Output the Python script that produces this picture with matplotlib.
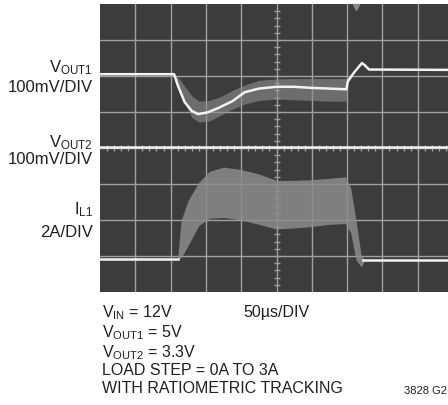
import numpy as np
import matplotlib
matplotlib.use("Agg")
import matplotlib.pyplot as plt

FONT = ['Liberation Sans', 'DejaVu Sans']
plt.rcParams['font.family'] = FONT
plt.rcParams['mathtext.fontset'] = 'custom'
plt.rcParams['mathtext.rm'] = 'Liberation Sans'
plt.rcParams['mathtext.it'] = 'Liberation Sans'
plt.rcParams['mathtext.bf'] = 'Liberation Sans'

# ---- data (time and level in scope divisions) ----
vout1_t = [0, 2.1, 2.2, 2.4, 2.6, 2.78, 3.05, 3.35, 3.75, 4.1, 4.5, 5.0, 5.5, 6.0, 6.5, 6.98,
           7.02, 7.2, 7.42, 7.5, 7.62, 9.9]
vout1_v = [6.05, 6.05, 5.75, 5.27, 5.03, 4.94, 4.99, 5.11, 5.3, 5.55, 5.65, 5.7, 5.7, 5.67, 5.65, 5.63,
           5.85, 6.1, 6.36, 6.3, 6.18, 6.17]

band1_t = [2.12, 2.3, 2.6, 2.8, 3.1, 3.4, 3.75, 4.1, 4.5, 5.0, 5.5, 6.0, 6.5, 6.98]
band1_hi = [6.05, 5.85, 5.45, 5.3, 5.32, 5.42, 5.6, 5.75, 5.88, 5.92, 5.93, 5.93, 5.93, 5.93]
band1_lo = [6.0, 5.45, 4.85, 4.72, 4.75, 4.9, 5.08, 5.22, 5.32, 5.36, 5.34, 5.32, 5.3, 5.3]

vout2_t = [0, 9.9]
vout2_v = [4.02, 4.02]

il1_base_t = [0, 2.2, 7.45, 9.9]
il1_base_v = [0.93, 0.93, 0.88, 0.88]

il1_t = [2.2, 2.3, 2.5, 2.8, 3.1, 3.5, 4.0, 4.5, 5.0, 5.5, 6.0, 6.5, 6.95, 7.1, 7.25, 7.4, 7.5]
il1_hi = [0.95, 2.0, 2.55, 3.05, 3.35, 3.47, 3.4, 3.28, 3.1, 3.1, 3.12, 3.16, 3.2, 2.9, 2.0, 1.0, 0.9]
il1_lo = [0.93, 0.95, 1.3, 1.85, 2.05, 2.07, 2.0, 1.88, 1.75, 1.78, 1.82, 1.88, 1.9, 1.65, 0.9, 0.7, 0.88]

trace_labels = [("V$_{\\mathrm{OUT1}}$", "100mV/DIV", 72, 92),
                ("V$_{\\mathrm{OUT2}}$", "100mV/DIV", 147, 164),
                ("I$_{\\mathrm{L1}}$", "2A/DIV", 214, 237)]

notes = ["V$_{\\mathrm{IN}}$ = 12V",
         "V$_{\\mathrm{OUT1}}$ = 5V",
         "V$_{\\mathrm{OUT2}}$ = 3.3V",
         "LOAD STEP = 0A TO 3A",
         "WITH RATIOMETRIC TRACKING"]
timebase = "50µs/DIV"
code = "3828 G2"

# ---- figure ----
W, H = 448, 406
fig = plt.figure(figsize=(W / 100, H / 100), dpi=100)
fig.patch.set_facecolor('white')

left_px, top_px, right_px, bot_px = 100, 5, 448, 293
div_px = 35.3
ax = fig.add_axes([left_px / W, 1 - bot_px / H, (right_px - left_px) / W, (bot_px - top_px) / H])
ax.set_facecolor('#3c3c3c')
ax.set_xlim(0, (right_px - left_px) / div_px)
ax.set_ylim(0, 8)
for s in ax.spines.values():
    s.set_visible(False)
ax.set_xticks([])
ax.set_yticks([])

gcol = '#a0a0a0'
for x in range(1, 10):
    ax.axvline(x, color=gcol, lw=1.0, zorder=1)
for y in range(1, 8):
    ax.axhline(y, color=gcol, lw=1.0, zorder=1)
# centre graticule ticks
minor = np.arange(0.2, 10, 0.2)
ax.plot(np.full_like(minor[minor < 8], 5), minor[minor < 8], ls='none', marker='_',
        ms=4, mew=1.0, color=gcol, zorder=1)
ax.plot(minor, np.full_like(minor, 4), ls='none', marker='|', ms=4, mew=1.0, color=gcol, zorder=1)

# trigger marker
ax.plot([7.25], [7.93], marker='v', ms=4, color='#8a8a8a', ls='none', zorder=2, clip_on=False)

tcol = '#f2f2f2'
# VOUT1
ax.fill_between(band1_t, band1_lo, band1_hi, color='#8e8e8e', alpha=0.6, lw=0, zorder=2)
ax.plot(vout1_t, vout1_v, color=tcol, lw=1.8, zorder=3, solid_joinstyle='round')
# VOUT2
ax.plot(vout2_t, vout2_v, color=tcol, lw=1.8, zorder=3)
# IL1
ax.fill_between(il1_t, il1_lo, il1_hi, color='#8c8c8c', alpha=0.85, lw=0, zorder=2)
ax.plot(il1_base_t[:2], il1_base_v[:2], color=tcol, lw=1.8, zorder=3)
ax.plot(il1_base_t[2:], il1_base_v[2:], color=tcol, lw=1.8, zorder=3)

# ---- labels ----
fs = 12
def fy(py):
    return 1 - py / H

for name, scale, y1, y2 in trace_labels:
    fig.text(93 / W, fy(y1), name, ha='right', va='baseline', fontsize=fs, color='#231f20')
    fig.text(93 / W, fy(y2), scale, ha='right', va='baseline', fontsize=fs, color='#231f20')

note_base = [317, 337, 357, 375, 393]
for txt, yb in zip(notes, note_base):
    fig.text(102 / W, fy(yb), txt, ha='left', va='baseline', fontsize=11.5, color='#231f20')
fig.text(243 / W, fy(317), timebase, ha='left', va='baseline', fontsize=11.5, color='#231f20')
fig.text(447 / W, fy(394), code, ha='right', va='baseline', fontsize=8, color='#231f20')

fig.savefig('out.png', dpi=100, facecolor='white')
